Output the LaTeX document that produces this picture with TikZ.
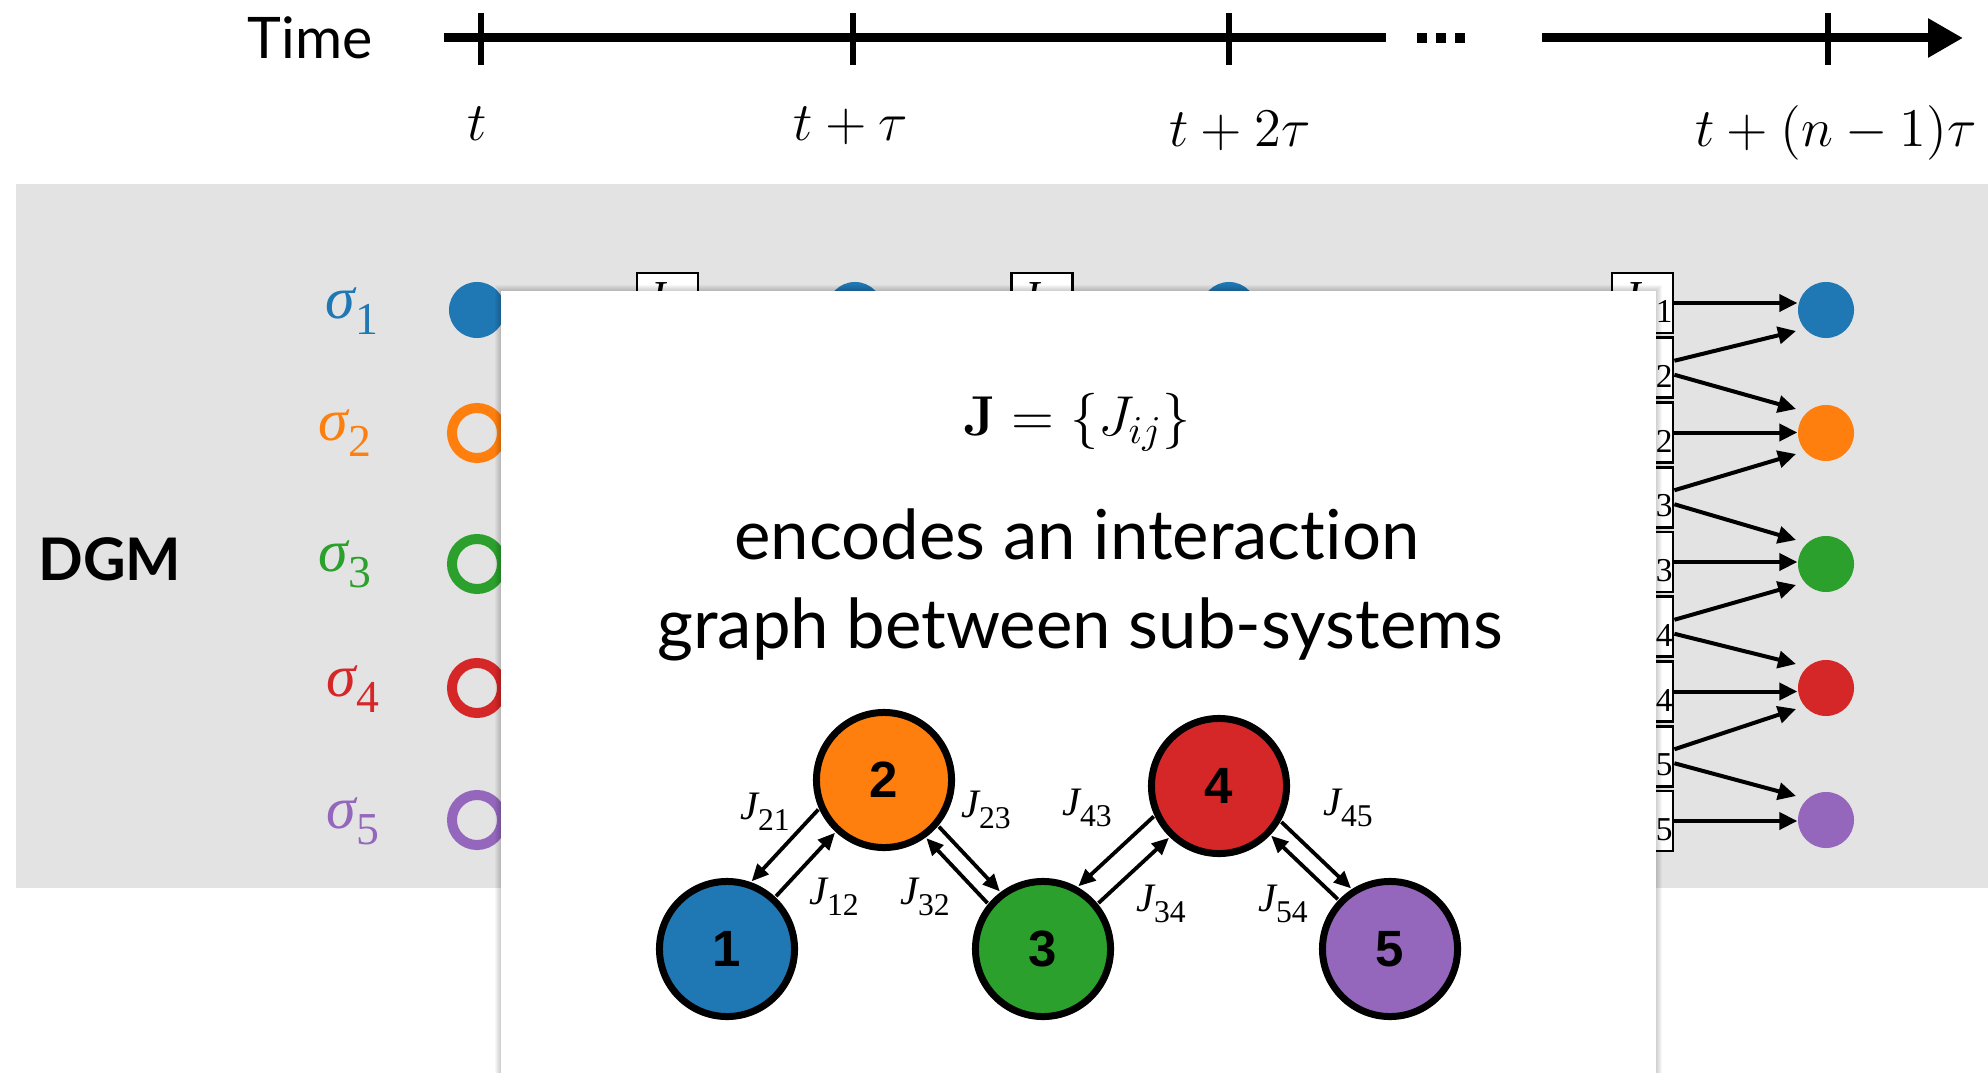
\documentclass[tikz,border=0pt]{standalone}
\usepackage{fix-cm}
\usepackage[no-math]{fontspec}
\setmainfont{Lato}[Ligatures=NoCommon]
\newfontfamily\helv{Liberation Sans}
\newfontfamily\tms{Liberation Serif}
\usetikzlibrary{arrows.meta,calc}
\definecolor{cblue}{HTML}{1F77B4}
\definecolor{corange}{HTML}{FF7F0E}
\definecolor{cgreen}{HTML}{2CA02C}
\definecolor{cred}{HTML}{D62728}
\definecolor{cpurple}{HTML}{9467BD}
\definecolor{bandgray}{HTML}{E3E3E3}
\newcommand\pairarrow[6]{%
  \draw[grarrow,shorten <=#6cm,shorten >=#6cm]
    ($(#1)!#3cm!#4:(#2)$) -- ($(#2)!#3cm!#5:(#1)$);}
% sigma label: big subscript, Times-like
\newcommand\sig[1]{{\tms\fontsize{17}{18}\selectfont\itshape σ}\raisebox{-4.5pt}{\tms\fontsize{13}{14}\selectfont #1}}
% J label in graph
\newcommand\gj[1]{{\tms\fontsize{11.5}{12}\selectfont\itshape J}\raisebox{-3pt}{\tms\fontsize{9}{10}\selectfont #1}}
% J label in boxes
\newcommand\bj[1]{{\tms\fontsize{13}{14}\selectfont\itshape J}\raisebox{-3pt}{\tms\fontsize{9.5}{10}\selectfont #1}}
\begin{document}
\begin{tikzpicture}[x=0.01cm,y=-0.01cm,
  dgmarrow/.style={line width=0.04cm,-{Triangle[length=0.18cm,width=0.17cm]}},
  grarrow/.style={line width=0.038cm,-{Triangle[length=0.17cm,width=0.15cm]}},
  dot/.style={circle,inner sep=0,minimum size=0.56cm,draw=none},
  ring/.style={circle,inner sep=0,minimum size=0.50cm,line width=0.10cm,fill=none},
  jbox/.style={draw=black,line width=0.027cm,fill=white,inner sep=0,minimum width=0.61cm,minimum height=0.60cm},
  boxlab/.style={anchor=base east,inner sep=0},
  gnode/.style={circle,draw=black,line width=0.07cm,minimum size=1.35cm,inner sep=0,font=\helv\bfseries\fontsize{14.5}{16}\selectfont},
  glab/.style={inner sep=0},
  sig/.style={inner sep=0},
  tick/.style={line width=0.065cm},
  ticklab/.style={anchor=base,inner sep=0,font=\fontsize{15.5}{18}\selectfont}
]
\useasboundingbox (0,0) rectangle (1988,1073);
\fill[white] (0,0) rectangle (1988,1073);
\fill[bandgray] (16,184) rectangle (1988,888);

% ---- time axis
\node[font=\fontsize{16.3}{18}\selectfont,inner sep=0] (time) at (310,38) {Time};
\coordinate (ax0) at (444,38);
\coordinate (ax1) at (1386,38);
\coordinate (ax2) at (1542,38);
\coordinate (ax3) at (1963,38);
\draw[line width=0.09cm] (ax0) -- (ax1);
\draw[line width=0.09cm,-{Triangle[length=0.35cm,width=0.37cm]}] (ax2) -- (ax3);
\foreach \x in {1422,1441,1460} \fill (\x-5,33) rectangle (\x+5,43);
\draw[tick] (481,13) -- (481,65);
\draw[tick] (853,13) -- (853,65);
\draw[tick] (1229,13) -- (1229,65);
\draw[tick] (1828,13) -- (1828,65);
\node[ticklab] (tl1) at (477,141) {$t$};
\node[ticklab] (tl2) at (851,141) {$t+\tau$};
\node[ticklab] (tl3) at (1240,147) {$t+2\tau$};
\node[ticklab] (tl4) at (1836,147) {$t+(n-1)\tau$};

% ---- DGM band
\node[font=\bfseries\fontsize{16.7}{20}\selectfont,inner sep=0] (dgm) at (110,559) {DGM};
\node[sig,text=cblue]   (s1) at (352,311) {\sig{1}};
\node[sig,text=corange] (s2) at (345,433) {\sig{2}};
\node[sig,text=cgreen]  (s3) at (345,564) {\sig{3}};
\node[sig,text=cred]    (s4) at (353,689) {\sig{4}};
\node[sig,text=cpurple] (s5) at (353,821) {\sig{5}};

\node[dot,fill=cblue] (cl1) at (477,310) {};
\node[ring,draw=corange] (cl2) at (477,433) {};
\node[ring,draw=cgreen]  (cl3) at (477,564) {};
\node[ring,draw=cred]    (cl4) at (477,688) {};
\node[ring,draw=cpurple] (cl5) at (477,820) {};

% middle columns (mostly hidden)
\node[jbox] (ba) at (667.5,303) {};
\node[boxlab] (bal) at ($(ba.north east)+(-1,40.5)$) {\bj{11}};
\node[dot,fill=cblue] (cm1) at (855,310) {};
\node[jbox] (bb) at (1042,303) {};
\node[boxlab] (bbl) at ($(bb.north east)+(-1,40.5)$) {\bj{11}};
\node[dot,fill=cblue] (cm2) at (1229,310) {};

% right column
\foreach \k/\lab in {1/11,2/12,3/22,4/23,5/33,6/34,7/44,8/45,9/55}{
  \node[jbox] (r\k) at (1642.5,{303+64.75*(\k-1)}) {};
  \node[boxlab] (rl\k) at ($(r\k.north east)+(-1,40.5)$) {\bj{\lab}};
}
\node[dot,fill=cblue]   (cr1) at (1826,310) {};
\node[dot,fill=corange] (cr2) at (1826,433) {};
\node[dot,fill=cgreen]  (cr3) at (1826,564) {};
\node[dot,fill=cred]    (cr4) at (1826,688) {};
\node[dot,fill=cpurple] (cr5) at (1826,820) {};
\foreach \k/\c in {1/1,3/2,5/3,7/4,9/5}
  \draw[dgmarrow] (r\k.east) -- (r\k.east -| cr\c.west);
\foreach \k/\u/\d in {2/1/2,4/2/3,6/3/4,8/4/5}{
  \draw[dgmarrow] ($(r\k.east)+(0,-7)$) -- ($(cr\u)+(-30,21)$);
  \draw[dgmarrow] ($(r\k.east)+(0,7)$) -- ($(cr\d)+(-30,-24)$);
}

% ---- white panel with soft shadow
\foreach \i in {1,...,6}
  \fill[black,opacity=0.03] (501-\i,291-\i) rectangle (1656+\i,1073);
\fill[white] (501,291) rectangle (1656,1073);

\node[anchor=base,inner sep=0,font=\fontsize{16}{18}\selectfont] (title) at (1077,435) {$\mathbf{J}=\{J_{ij}\}$};
\node[anchor=base,inner sep=0,font=\fontsize{19.6}{24}\selectfont] (desc1) at (1077,559) {encodes an interaction};
\node[anchor=base,inner sep=0,font=\fontsize{19.6}{24}\selectfont] (desc2) at (1080,648) {graph between sub-systems};

% ---- interaction graph
\node[gnode,fill=cblue]   (n1) at (727,949) {1};
\node[gnode,fill=corange] (n2) at (884,780) {2};
\node[gnode,fill=cgreen]  (n3) at (1043,949) {3};
\node[gnode,fill=cred]    (n4) at (1219,786) {4};
\node[gnode,fill=cpurple] (n5) at (1390,949) {5};

\pairarrow{n2}{n1}{0.28}{-90}{90}{0.663}
\pairarrow{n1}{n2}{0}{90}{-90}{0.72}
\pairarrow{n2}{n3}{0.08}{90}{-90}{0.7155}
\pairarrow{n3}{n2}{0.09}{90}{-90}{0.714}
\pairarrow{n4}{n3}{0.22}{-90}{90}{0.6856}
\pairarrow{n3}{n4}{0.04}{-90}{90}{0.719}
\pairarrow{n4}{n5}{0.17}{90}{-90}{0.70}
\pairarrow{n5}{n4}{0}{90}{-90}{0.72}

\node[glab] (l21) at (765,812) {\gj{21}};
\node[glab] (l12) at (834,897) {\gj{12}};
\node[glab] (l23) at (986,810) {\gj{23}};
\node[glab] (l32) at (925,897) {\gj{32}};
\node[glab] (l43) at (1087,808) {\gj{43}};
\node[glab] (l34) at (1161,904) {\gj{34}};
\node[glab] (l45) at (1348,808) {\gj{45}};
\node[glab] (l54) at (1283,904) {\gj{54}};
\end{tikzpicture}
\end{document}
